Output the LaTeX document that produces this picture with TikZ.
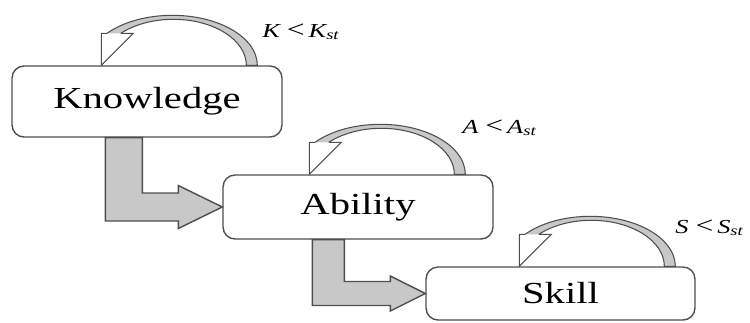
\documentclass[tikz,border=0pt]{standalone}
\usepackage{fontspec}
\setmainfont[FakeStretch=1.33]{Liberation Serif}
\usetikzlibrary{calc}
\definecolor{boxline}{HTML}{4E4E4E}
\definecolor{shade}{HTML}{C8C8C8}
\newcommand{\lessop}{\hspace{0.35em}{\upshape\fontsize{13.5}{13}\selectfont<}\hspace{0.2em}}
\tikzset{
  stage/.style={draw=boxline, line width=0.8pt, rounded corners=0.24cm, fill=white,
    inner sep=0pt, font=\fontsize{17.4}{20}\selectfont},
  flow/.style={draw=boxline, line width=0.8pt, fill=shade},
  cond/.style={anchor=base west, inner sep=0pt, font=\fontsize{11.3}{13}\selectfont},
  feedback/.pic={
    \fill[white] (0,0) -- (0,32) -- (32,32) -- cycle;
    \filldraw[draw=boxline, line width=0.6pt, fill=shade] (5.7,32)
      arc[start angle=140.2, end angle=0, x radius=85, y radius=50] -- (145,0)
      arc[start angle=0, end angle=135.9, x radius=73, y radius=46];
    \draw[boxline, line width=0.6pt] (5.7,32) -- (0,32) -- (0,0) -- (32,32) -- (19.6,32);
  }
}
\begin{document}
\begin{tikzpicture}[x=0.02cm,y=0.02cm]
  \useasboundingbox (0,0) rectangle (750,322);
  % stages
  \node[stage, minimum width=5.4cm, minimum height=1.42cm] (know) at (147,220.5) {Knowledge};
  \node[stage, minimum width=5.4cm, minimum height=1.28cm] (abil) at (358,115) {Ability};
  \node[stage, minimum width=5.38cm, minimum height=1.06cm] (skill) at (560.5,28.5) {Skill};
  %
  % bent arrows
  \coordinate (k1) at ($(know.south west)+(94,0)$);
  \coordinate (k2) at ($(know.south west)+(131,0)$);
  \coordinate (a0) at (abil.west);
  \draw[flow] (k1) -- (k2) |- ($(a0)+(-44,14)$) -- ++(0,7.5) -- (a0)
    -- ($(a0)+(-44,-21.5)$) -- ++(0,7.5) -| (k1) -- cycle;
  %
  \coordinate (a1) at ($(abil.south west)+(90,0)$);
  \coordinate (a2) at ($(abil.south west)+(122,0)$);
  \coordinate (s0) at (skill.west);
  \draw[flow] (a1) -- (a2) |- ($(s0)+(-35,12)$) -- ++(0,5.5) -- (s0)
    -- ($(s0)+(-35,-17.5)$) -- ++(0,5.5) -| (a1) -- cycle;
  %
  % feedback loops
  \pic at ($(know.north west)+(90,0)$) {feedback};
  \pic at ($(abil.north west)+(87,0)$) {feedback};
  \pic at ($(skill.north west)+(94,0)$) {feedback};
  %
  \node[cond] (kcond) at (262,285) {\itshape K\lessop K\textsubscript{st}};
  \node[cond] (acond) at (462,189) {\itshape A\lessop A\textsubscript{st}};
  \node[cond] (scond) at (675,89) {\itshape S\lessop S\textsubscript{st}};
\end{tikzpicture}
\end{document}
